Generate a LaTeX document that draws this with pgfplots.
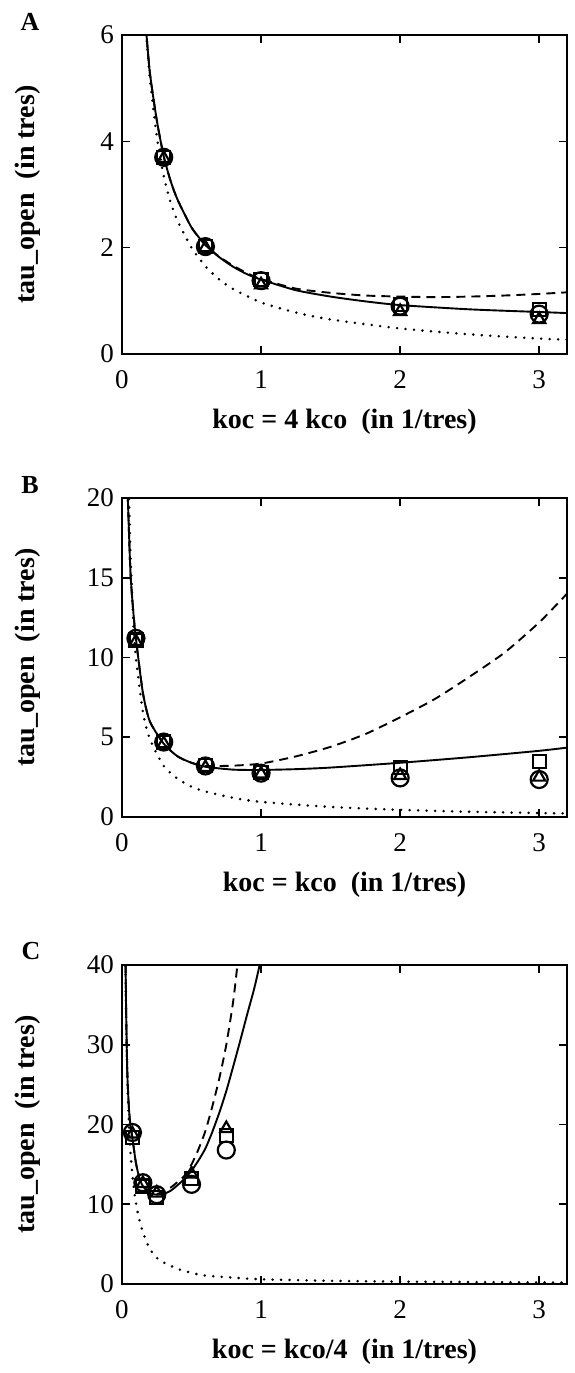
\documentclass[border=0pt]{standalone}
\usepackage{fontspec}
\setmainfont{Liberation Serif}
\usepackage{pgfplots}
\pgfplotsset{compat=1.18}

\pgfplotsset{
  panel/.style={
    scale only axis, width=445pt, height=319pt,
    anchor=south west,
    xmin=0, xmax=3.2, xtick={0,1,2,3},
    tick align=inside, major tick length=8pt,
    axis line style={line width=2.2pt},
    every tick/.style={black, line width=1.6pt},
    /pgf/number format/assume math mode=true,
    tick label style={font=\fontsize{27}{29}\selectfont},
    xticklabel style={anchor=base, inner sep=0pt, yshift=-34pt},
    yticklabel style={anchor=east, inner sep=0pt, xshift=-8pt},
    label style={font=\fontsize{28}{30}\selectfont\bfseries},
    xlabel style={at={(axis description cs:0.5,0)}, anchor=base, inner sep=0pt, yshift=-74pt},
    ylabel style={at={([xshift=-87pt]axis description cs:0,0.5)}, anchor=base, inner sep=0pt},
    ylabel={tau\_open~~(in tres)},
  },
  solidc/.style={black, line width=1.9pt, smooth, tension=0.4},
  dashc/.style={black, line width=1.9pt, dash pattern=on 9pt off 6pt, smooth, tension=0.4},
  dotc/.style={black, line width=2.8pt, line cap=round, dash pattern=on 0pt off 8.5pt, smooth, tension=0.4},
  circ/.style={only marks, mark=o, mark size=8.5pt, mark options={black, line width=2.2pt}},
  sq/.style={only marks, mark=square, mark size=6.5pt, mark options={black, line width=2.2pt}},
  tri/.style={only marks, mark=triangle, mark size=7pt, mark options={black, line width=2.2pt}},
}

\begin{document}
\begin{tikzpicture}
\path[use as bounding box] (0,0) rectangle (575pt,-1373pt);

% ---------- panel A
\node[font=\fontsize{26}{27}\selectfont\bfseries] at (30pt,-22pt) {A};
\begin{axis}[panel, at={(122pt,-354pt)}, ymin=0, ymax=6, ytick={0,2,4,6},
  xlabel={koc = 4 kco~~(in 1/tres)}]
\addplot[dotc] coordinates {(0.17,6.2) (0.2,5.2) (0.25,4.1) (0.3,3.35) (0.35,2.85) (0.4,2.5) (0.5,2.0) (0.6,1.65) (0.7,1.4) (0.8,1.22) (1,0.97) (1.25,0.78) (1.5,0.65) (2,0.48) (2.5,0.37) (3,0.29) (3.2,0.27)};
\addplot[dashc] coordinates {(0.17,6.2) (0.2,5.3) (0.25,4.4) (0.3,3.72) (0.35,3.25) (0.4,2.9) (0.5,2.38) (0.6,2.05) (0.7,1.83) (0.8,1.66) (0.9,1.52) (1,1.41) (1.25,1.23) (1.5,1.15) (1.75,1.1) (2,1.08) (2.25,1.07) (2.5,1.08) (2.75,1.1) (3,1.13) (3.2,1.16)};
\addplot[solidc] coordinates {(0.17,6.2) (0.2,5.3) (0.25,4.4) (0.3,3.72) (0.35,3.25) (0.4,2.9) (0.5,2.38) (0.6,2.05) (0.7,1.82) (0.8,1.64) (0.9,1.5) (1,1.4) (1.25,1.2) (1.5,1.08) (1.75,0.99) (2,0.92) (2.5,0.84) (3,0.79) (3.2,0.77)};
\addplot[circ] coordinates {(0.3,3.7) (0.6,2.02) (1,1.38) (2,0.9) (3,0.75)};
\addplot[sq] coordinates {(0.3,3.7) (0.6,2.02) (1,1.4) (2,0.93) (3,0.83)};
\addplot[tri] coordinates {(0.3,3.68) (0.6,2.0) (1,1.3) (2,0.8) (3,0.65)};
\end{axis}

% ---------- panel B
\node[font=\fontsize{26}{27}\selectfont\bfseries] at (30pt,-485pt) {B};
\begin{axis}[panel, at={(122pt,-817pt)}, ymin=0, ymax=20, ytick={0,5,10,15,20},
  xlabel={koc = kco~~(in 1/tres)}]
\addplot[dotc] coordinates {(0.048,21) (0.06,16.7) (0.08,12.5) (0.1,10) (0.15,6.6) (0.2,4.9) (0.3,3.2) (0.4,2.4) (0.5,1.9) (0.6,1.6) (0.8,1.2) (1,0.95) (1.5,0.63) (2,0.45) (2.5,0.33) (3,0.25) (3.2,0.22)};
\addplot[dashc] coordinates {(0.038,21) (0.06,15.5) (0.08,13) (0.1,11.2) (0.15,7.8) (0.2,6.0) (0.3,4.6) (0.4,3.8) (0.5,3.4) (0.6,3.2) (0.8,3.22) (1,3.35) (1.25,3.8) (1.5,4.4) (1.75,5.2) (2,6.25) (2.25,7.4) (2.5,8.8) (2.75,10.3) (3,12.2) (3.2,14.0)};
\addplot[solidc] coordinates {(0.038,21) (0.06,15.5) (0.08,13) (0.1,11.2) (0.15,7.8) (0.2,6.0) (0.3,4.6) (0.4,3.8) (0.5,3.4) (0.6,3.15) (0.8,2.97) (1,2.95) (1.25,3.0) (1.5,3.1) (2,3.4) (2.5,3.75) (3,4.15) (3.2,4.35)};
\addplot[circ] coordinates {(0.1,11.2) (0.3,4.7) (0.6,3.2) (1,2.75) (2,2.45) (3,2.35)};
\addplot[sq] coordinates {(0.1,11.1) (0.3,4.7) (0.6,3.25) (1,2.8) (2,3.1) (3,3.5)};
\addplot[tri] coordinates {(0.1,11.0) (0.3,4.6) (0.6,3.1) (1,2.7) (2,2.6) (3,2.5)};
\end{axis}

% ---------- panel C
\node[font=\fontsize{26}{27}\selectfont\bfseries] at (31pt,-951pt) {C};
\begin{axis}[panel, at={(122pt,-1284pt)}, ymin=0, ymax=40, ytick={0,10,20,30,40},
  xlabel={koc = kco/4~~(in 1/tres)}]
\addplot[dotc] coordinates {(0.024,42) (0.03,33) (0.04,25) (0.05,20) (0.06,16.6) (0.08,12.8) (0.1,10.2) (0.12,8.4) (0.15,6.5) (0.2,4.4) (0.26,3.1) (0.3,2.7) (0.4,1.9) (0.5,1.4) (0.6,1.05) (0.8,0.8) (1,0.6) (1.5,0.4) (2,0.3) (2.5,0.25) (3,0.2) (3.2,0.18)};
\addplot[dashc] coordinates {(0.024,42) (0.03,34) (0.035,29) (0.04,25.5) (0.05,22) (0.06,20) (0.075,18.3) (0.1,15.2) (0.125,13.3) (0.15,12.3) (0.2,11.5) (0.25,11.3) (0.3,11.6) (0.35,12.1) (0.4,12.8) (0.45,13.6) (0.5,15) (0.55,16.9) (0.6,19.2) (0.65,22.3) (0.7,25.8) (0.75,30) (0.8,35.5) (0.83,40) (0.84,41.5)};
\addplot[solidc] coordinates {(0.024,42) (0.03,34) (0.035,29) (0.04,25.5) (0.05,22) (0.06,20) (0.075,18.3) (0.1,15.2) (0.125,13.3) (0.15,12.3) (0.2,11.4) (0.25,11.2) (0.3,11.3) (0.35,11.7) (0.4,12.4) (0.45,13.2) (0.5,14.2) (0.55,15.5) (0.6,17) (0.65,19.1) (0.7,21.5) (0.75,24.2) (0.8,27.3) (0.85,30.5) (0.9,33.8) (0.95,37) (0.99,40) (1.0,40.8)};
\addplot[circ] coordinates {(0.075,19.0) (0.15,12.7) (0.25,11.2) (0.5,12.5) (0.75,16.8)};
\addplot[sq] coordinates {(0.075,18.4) (0.15,12.3) (0.25,10.8) (0.5,13.2) (0.75,18.6)};
\addplot[tri] coordinates {(0.075,18.8) (0.15,12.6) (0.25,11.4) (0.5,13.8) (0.75,19.5)};
\end{axis}
\end{tikzpicture}
\end{document}
